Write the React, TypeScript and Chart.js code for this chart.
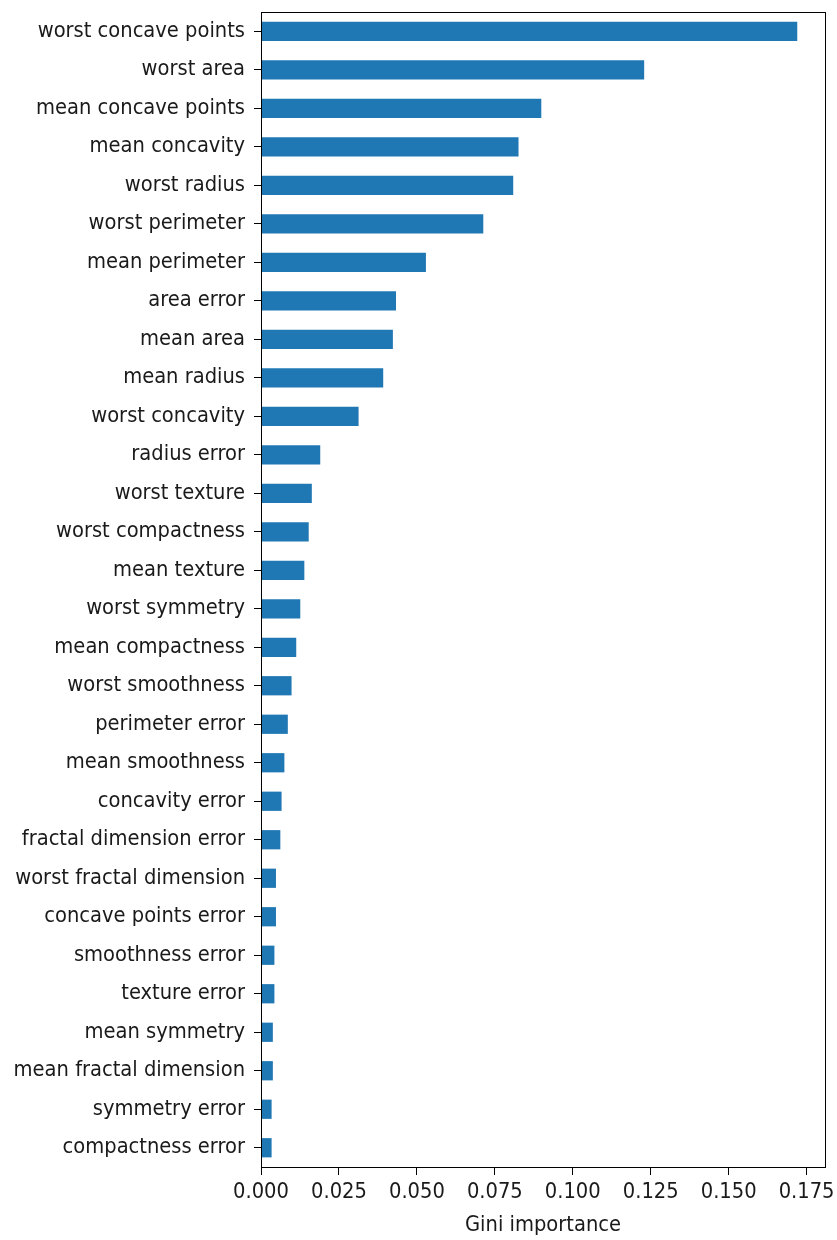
import React, { useEffect, useRef } from "react";
import { Chart, registerables } from "chart.js";

Chart.register(...registerables);

const features: string[] = [
  "worst concave points",
  "worst area",
  "mean concave points",
  "mean concavity",
  "worst radius",
  "worst perimeter",
  "mean perimeter",
  "area error",
  "mean area",
  "mean radius",
  "worst concavity",
  "radius error",
  "worst texture",
  "worst compactness",
  "mean texture",
  "worst symmetry",
  "mean compactness",
  "worst smoothness",
  "perimeter error",
  "mean smoothness",
  "concavity error",
  "fractal dimension error",
  "worst fractal dimension",
  "concave points error",
  "smoothness error",
  "texture error",
  "mean symmetry",
  "mean fractal dimension",
  "symmetry error",
  "compactness error",
];

const importance: number[] = [
  0.172, 0.1229, 0.0899, 0.0826, 0.0809, 0.0713, 0.0529, 0.0433, 0.0423,
  0.0392, 0.0313, 0.019, 0.0163, 0.0153, 0.0139, 0.0126, 0.0113, 0.0098,
  0.0086, 0.0075, 0.0066, 0.0062, 0.0048, 0.0048, 0.0043, 0.0043, 0.0038,
  0.0038, 0.0034, 0.0034,
];

const xMin = 0;
const xMax = 0.1809;
const xStep = 0.025;
const xTitle = "Gini importance";

const FONT_FAMILY = "'DejaVu Sans Condensed', 'DejaVu Sans', sans-serif";
const FONT_SIZE = 21.7;
const TEXT = "#1a1a1a";

const frame = {
  id: "frame",
  afterDraw(chart: any) {
    const { ctx, chartArea } = chart;
    ctx.save();
    ctx.strokeStyle = "#000000";
    ctx.lineWidth = 1;
    ctx.strokeRect(
      Math.round(chartArea.left) + 0.5,
      Math.round(chartArea.top) + 0.5,
      Math.round(chartArea.right - chartArea.left),
      Math.round(chartArea.bottom - chartArea.top)
    );
    ctx.restore();
  },
};

export default function App() {
  const ref = useRef<HTMLCanvasElement | null>(null);

  useEffect(() => {
    if (!ref.current) return;
    const chart = new Chart(ref.current, {
      type: "bar",
      data: {
        labels: features,
        datasets: [
          {
            data: importance,
            backgroundColor: "#1f77b4",
            borderWidth: 0,
            barPercentage: 0.5,
            categoryPercentage: 1,
          },
        ],
      },
      options: {
        indexAxis: "y",
        responsive: false,
        animation: false,
        layout: { padding: { top: 12, right: 12, left: 0, bottom: 0 } },
        plugins: {
          legend: { display: false },
          tooltip: { enabled: false },
        },
        scales: {
          x: {
            type: "linear",
            min: xMin,
            max: xMax,
            afterFit: (scale: any) => {
              scale.height = 73;
              scale.paddingLeft = 0;
              scale.paddingRight = 0;
            },
            border: { display: true, color: "#000000", width: 1 },
            grid: {
              drawOnChartArea: false,
              drawTicks: true,
              tickLength: 8,
              color: "#000000",
            },
            ticks: {
              stepSize: xStep,
              includeBounds: false,
              padding: 4,
              color: TEXT,
              font: { family: FONT_FAMILY, size: FONT_SIZE },
              maxRotation: 0,
              callback: (v: any) => Number(v).toFixed(3),
            },
            title: {
              display: true,
              text: xTitle,
              color: TEXT,
              font: { family: FONT_FAMILY, size: FONT_SIZE },
              padding: { top: 0, bottom: 2 },
            },
          },
          y: {
            type: "category",
            offset: true,
            afterFit: (scale: any) => {
              scale.width = 261;
              scale.paddingTop = 0;
              scale.paddingBottom = 0;
            },
            border: { display: true, color: "#000000", width: 1 },
            grid: {
              offset: false,
              drawOnChartArea: false,
              drawTicks: true,
              tickLength: 7,
              color: "#000000",
            },
            ticks: {
              autoSkip: false,
              padding: 9,
              color: TEXT,
              font: { family: FONT_FAMILY, size: FONT_SIZE },
            },
          },
        },
      },
      plugins: [frame],
    });
    return () => chart.destroy();
  }, []);

  return (
    <div style={{ position: "absolute", left: 0, top: 0, width: 837, height: 1240, background: "#fff" }}>
      <canvas ref={ref} width={837} height={1240} style={{ display: "block", width: 837, height: 1240 }} />
    </div>
  );
}
